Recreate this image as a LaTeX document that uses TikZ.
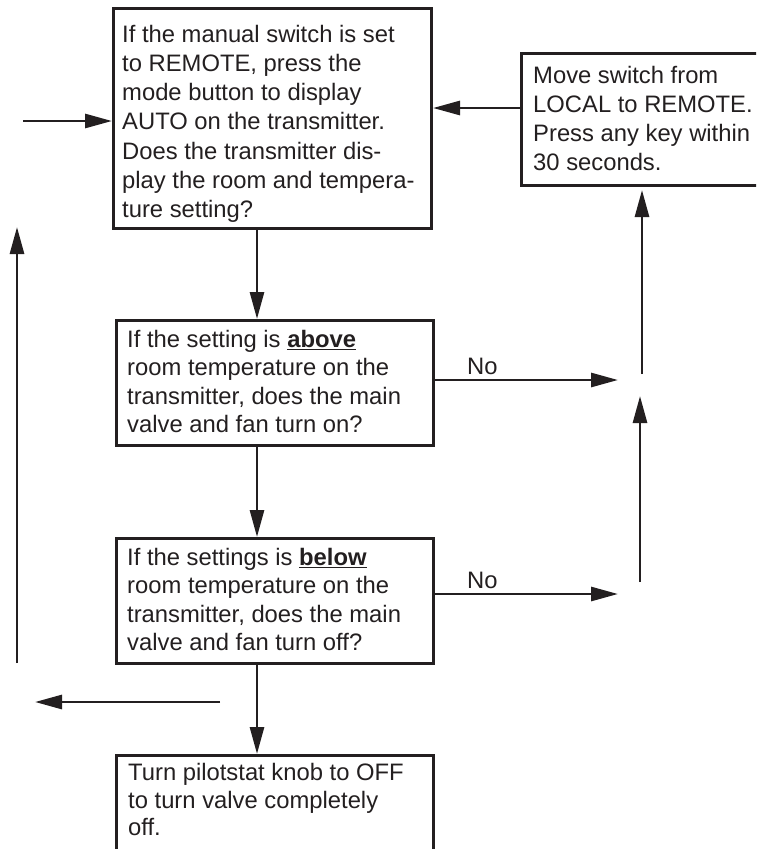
\documentclass[tikz,border=0pt]{standalone}
\usepackage{fontspec}
\setmainfont{Liberation Sans}
\usetikzlibrary{arrows.meta,calc}
\definecolor{ink}{HTML}{231F20}
\newcommand{\ulb}[1]{\underline{\textbf{#1}}}
\newcommand{\fl}{\rule{0pt}{20pt}}
\begin{document}
\begin{tikzpicture}[x=1pt,y=-1pt,
  box/.style={draw=ink, line width=3pt, inner sep=0pt, anchor=north west},
  txt/.style={anchor=north west, align=left, inner sep=0pt, text=ink, font=\fontsize{23.8}{29.2}\selectfont},
  arr/.style={draw=ink, line width=2.8pt, -{Triangle[length=27pt,width=14pt]}},
]
\path[use as bounding box, clip] (0,0) rectangle (756,849);

% boxes
\node[box, minimum width=318pt, minimum height=220pt] (b1) at (112,7) {};
\node[box, minimum width=317pt, minimum height=125pt] (b2) at (115,319) {};
\node[box, minimum width=317pt, minimum height=125pt] (b3) at (115,537) {};
\node[box, minimum width=317pt, minimum height=130pt] (b4) at (115,754) {};
\node[box, minimum width=260pt, minimum height=132pt] (b5) at (520,52) {};

% texts (node top = first baseline - 20)
\node[txt] (t1) at (122,22) {\fl If the manual switch is set\\to REMOTE, press the\\mode button to display\\AUTO on the transmitter.\\Does the transmitter dis-\\play the room and tempera-\\ture setting?};
\node[txt, font=\fontsize{23.8}{28.4}\selectfont] (t2) at (127,327) {\fl If the setting is \ulb{above}\\room temperature on the\\transmitter, does the main\\valve and fan turn on?};
\node[txt, font=\fontsize{23.8}{28.4}\selectfont] (t3) at (127,545) {\fl If the settings is \ulb{below}\\room temperature on the\\transmitter, does the main\\valve and fan turn off?};
\node[txt, font=\fontsize{23.8}{27.8}\selectfont] (t4) at (128,760) {\fl Turn pilotstat knob to OFF\\to turn valve completely\\off.};
\node[txt, font=\fontsize{23.8}{29}\selectfont] (t5) at (533,63) {\fl Move switch from\\LOCAL to REMOTE.\\Press any key within\\30 seconds.};

% helper coordinates
\coordinate (cx) at (257,0);
\coordinate (in1) at (23,121);
\coordinate (r5) at (0,108);
\coordinate (n1) at (618,380);
\coordinate (n2) at (618,594);
\coordinate (u1) at (642,374);
\coordinate (u2) at (640,582);
\coordinate (u2t) at (640,396);
\coordinate (l1) at (220,702);
\coordinate (l1t) at (35,702);
\coordinate (lu) at (17,663);
\coordinate (lut) at (17,227);

% connectors
\draw[arr] (in1) -- (in1 -| b1.west);
\draw[arr] (b5.west |- r5) -- (b1.east |- r5);
\draw[arr] (b1.south -| cx) -- (b2.north -| cx);
\draw[arr] (b2.south -| cx) -- (b3.north -| cx);
\draw[arr] (b3.south -| cx) -- (b4.north -| cx);
\draw[arr] (b2.east |- n1) -- (n1);
\draw[arr] (b3.east |- n2) -- (n2);
\draw[arr, shorten >=3pt] (u1) -- (u1 |- b5.south);
\draw[arr] (u2) -- (u2t);
\draw[arr] (l1) -- (l1t);
\draw[arr] (lu) -- (lut);

% labels
\node[txt] (no1) at (467,354) {\fl No};
\node[txt] (no2) at (467,568) {\fl No};
\end{tikzpicture}
\end{document}
